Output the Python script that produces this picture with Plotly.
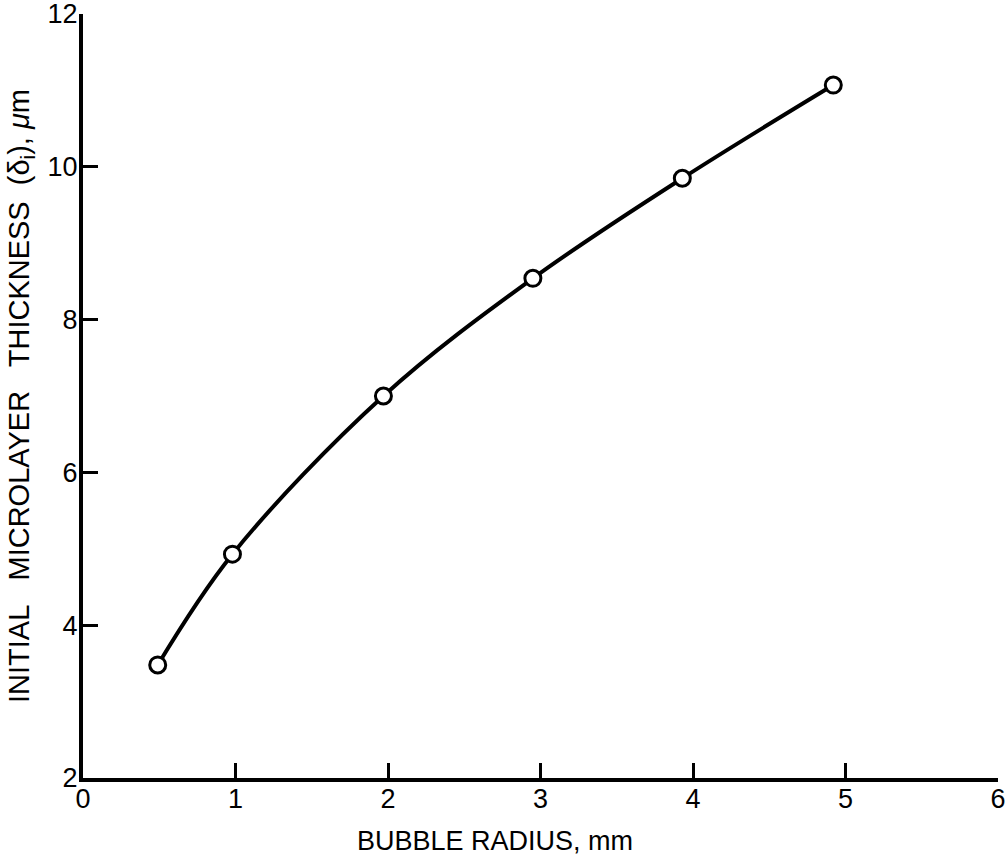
import plotly.graph_objects as go

# Measured initial microlayer thickness vs. bubble radius
bubble_radius_mm = [0.49, 0.98, 1.97, 2.95, 3.93, 4.92]
thickness_um = [3.48, 4.93, 7.0, 8.54, 9.85, 11.07]

x_ticks = [0, 1, 2, 3, 4, 5, 6]
y_ticks = [2, 4, 6, 8, 10, 12]

FONT = "Liberation Sans"

fig = go.Figure()

# smooth fitted curve through the data
fig.add_trace(go.Scatter(
    x=bubble_radius_mm, y=thickness_um,
    mode="lines",
    line=dict(color="black", width=4, shape="spline", smoothing=1.0),
    hoverinfo="skip", showlegend=False,
))

# open circle data points
fig.add_trace(go.Scatter(
    x=bubble_radius_mm, y=thickness_um,
    mode="markers",
    marker=dict(symbol="circle", size=16, color="white",
                line=dict(color="black", width=3)),
    showlegend=False,
))

fig.update_layout(
    width=1008, height=863,
    margin=dict(l=83, r=10, t=14, b=85, autoexpand=False),
    paper_bgcolor="white", plot_bgcolor="white",
    font=dict(family=FONT, color="black", size=27),
    xaxis=dict(
        range=[0, 6], tickvals=x_ticks, ticktext=[str(v) for v in x_ticks],
        showline=True, linecolor="black", linewidth=4,
        ticks="inside", ticklen=15, tickwidth=3, tickcolor="black",
        showgrid=False, zeroline=False,
        tickfont=dict(size=27, family=FONT),
        ticklabeloverflow="allow", ticklabelstandoff=-6,
    ),
    yaxis=dict(
        range=[2, 12], tickvals=y_ticks, ticktext=[str(v) for v in y_ticks],
        showline=True, linecolor="black", linewidth=4,
        ticks="inside", ticklen=15, tickwidth=3, tickcolor="black",
        showgrid=False, zeroline=False,
        tickfont=dict(size=27, family=FONT),
        ticklabeloverflow="allow", ticklabelstandoff=-4,
        title=dict(
            text="INITIAL\u00a0\u00a0 MICROLAYER\u00a0\u00a0 THICKNESS\u00a0 (δ<sub>i</sub>),\u00a0<i>μ</i>m",
            font=dict(size=29, family=FONT), standoff=10,
        ),
    ),
    annotations=[dict(
        text="BUBBLE RADIUS, mm",
        xref="paper", yref="paper", x=0.45, y=-0.082,
        xanchor="center", yanchor="middle", showarrow=False,
        font=dict(size=27, family=FONT),
    )],
)

fig.write_html("out.html")
